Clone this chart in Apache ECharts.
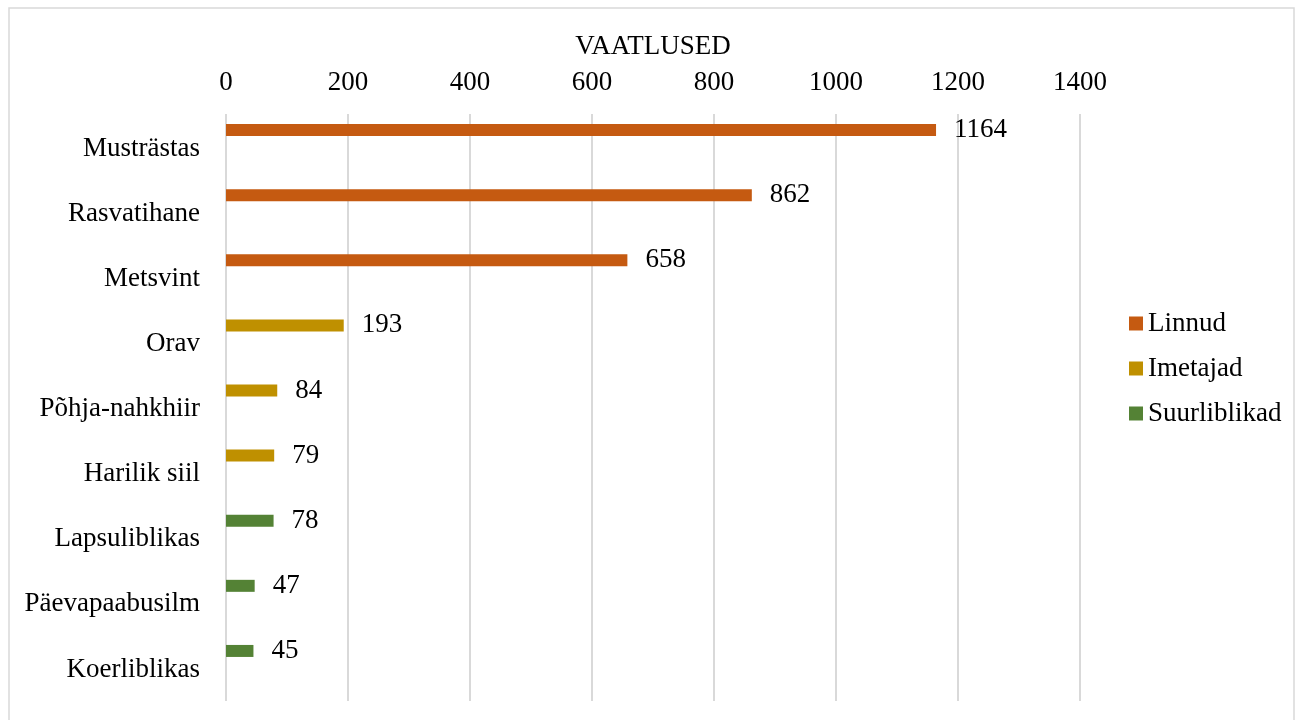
<!DOCTYPE html>
<html>
<head>
<meta charset="utf-8">
<script src="https://cdn.jsdelivr.net/npm/echarts@6/dist/echarts.min.js"></script>
<style>
  html, body { margin: 0; padding: 0; background: #fff; }
  #chart { width: 1300px; height: 720px; }
</style>
</head>
<body>
<div id="chart"></div>
<script>
// Observation counts per species, grouped by animal class
const categories = ['Musträstas', 'Rasvatihane', 'Metsvint', 'Orav', 'Põhja-nahkhiir', 'Harilik siil', 'Lapsuliblikas', 'Päevapaabusilm', 'Koerliblikas'];
const seriesNames = ['Linnud', 'Imetajad', 'Suurliblikad'];
const linnud = [1164, 862, 658, '-', '-', '-', '-', '-', '-'];
const imetajad = ['-', '-', '-', 193, 84, 79, '-', '-', '-'];
const suurliblikad = ['-', '-', '-', '-', '-', '-', 78, 47, 45];
const xTicks = { min: 0, max: 1400, interval: 200 };
const axisTitle = 'VAATLUSED';

const colors = ['#C55A11', '#BF9000', '#548235'];
const font = '"Liberation Serif", "Times New Roman", serif';
const fs = 27;

const chart = echarts.init(document.getElementById('chart'));

function barSeries(name, data, color) {
  return {
    name: name,
    type: 'bar',
    stack: 'all',
    xAxisIndex: 0,
    yAxisIndex: 0,
    data: data,
    barWidth: 12,
    itemStyle: { color: color },
    label: {
      show: true,
      position: 'right',
      distance: 18,
      color: '#000',
      fontFamily: font,
      fontSize: fs
    }
  };
}

chart.setOption({
  animation: false,
  backgroundColor: '#fff',
  textStyle: { fontFamily: font },
  graphic: [{
    type: 'rect',
    shape: { x: 9, y: 8, width: 1285, height: 720 },
    style: { fill: 'none', stroke: '#d9d9d9', lineWidth: 1.5 },
    silent: true,
    z: -1
  }],
  legend: {
    orient: 'vertical',
    left: 1124,
    top: 305,
    itemWidth: 14,
    itemHeight: 14,
    itemGap: 18,
    icon: 'rect',
    data: seriesNames,
    textStyle: { fontFamily: font, fontSize: fs, color: '#000' }
  },
  grid: [
    { left: 226, right: 220, top: 97.5, height: 586 },
    { left: 226, right: 220, top: 114, height: 587 }
  ],
  xAxis: [
    {
      type: 'value', gridIndex: 0,
      min: xTicks.min, max: xTicks.max, interval: xTicks.interval,
      show: false
    },
    {
      type: 'value', gridIndex: 1, position: 'top',
      min: xTicks.min, max: xTicks.max, interval: xTicks.interval,
      name: axisTitle,
      nameLocation: 'middle',
      nameGap: 54,
      nameTextStyle: { fontFamily: font, fontSize: fs, color: '#000' },
      axisLine: { show: false },
      axisTick: { show: false },
      axisLabel: {
        fontFamily: font, fontSize: fs, color: '#000', margin: 18,
        formatter: function (v) { return String(v); }
      },
      splitLine: { show: true, lineStyle: { color: '#d9d9d9', width: 2 } }
    }
  ],
  yAxis: [
    {
      type: 'category', gridIndex: 0, inverse: true,
      data: categories,
      axisLine: { show: false },
      axisTick: { show: false },
      axisLabel: {
        fontFamily: font, fontSize: fs, color: '#000',
        margin: 26,
        verticalAlign: 'top',
        lineHeight: 37
      }
    },
    {
      type: 'category', gridIndex: 1, inverse: true,
      data: categories,
      show: false
    }
  ],
  series: [
    barSeries(seriesNames[0], linnud, colors[0]),
    barSeries(seriesNames[1], imetajad, colors[1]),
    barSeries(seriesNames[2], suurliblikad, colors[2])
  ]
});
</script>
</body>
</html>
